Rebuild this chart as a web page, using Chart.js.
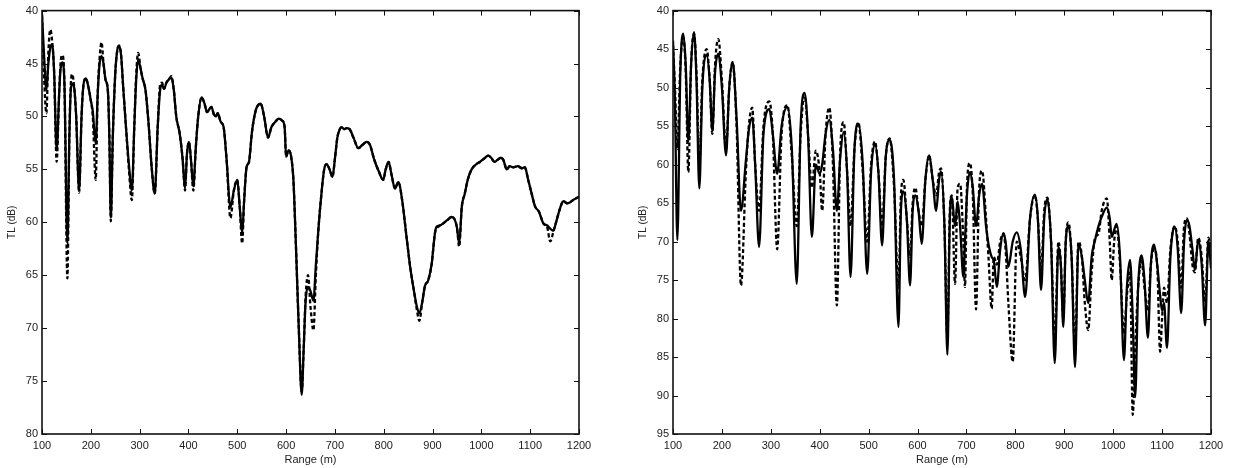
<!DOCTYPE html>
<html><head><meta charset="utf-8">
<script src="https://cdn.jsdelivr.net/npm/chart.js@4.4.1/dist/chart.umd.min.js"></script>
<style>
html,body{margin:0;padding:0;background:#fff;width:1236px;height:468px;overflow:hidden}
.box{position:absolute;top:0;height:468px}
#b1{left:0;width:600px}
#b2{left:631px;width:605px}
canvas{display:block}
</style></head><body>
<div class="box" id="b1"><canvas id="c1" width="600" height="468"></canvas></div>
<div class="box" id="b2"><canvas id="c2" width="605" height="468"></canvas></div>
<script>
// ---------- axis ticks ----------
const rangeTicks = [100,200,300,400,500,600,700,800,900,1000,1100,1200];
const leftTLTicks = [40,45,50,55,60,65,70,75,80];
const rightTLTicks = [40,45,50,55,60,65,70,75,80,85,90,95];
const xTitle = 'Range (m)';
const yTitle = 'TL (dB)';

// ---------- left panel ----------
const leftRange = [
 100,104,109,113,117,121,125,130,135,138,
 142,146,152,156,159,162,166,170,176,181,
 185,190,195,200,204,210,214,218,222,226,
 230,235,238,241,245,250,254,258,262,266,
 272,278,284,289,293,297,302,306,312,318,
 325,331,337,342,346,350,355,360,365,370,
 375,382,388,393,397,401,405,410,415,420,
 427,433,438,443,447,452,456,460,466,472,
 478,486,493,500,505,510,514,519,524,530,
 538,548,555,563,570,578,585,592,597,600,
 605,610,615,620,626,632,636,640,645,650,
 656,661,666,672,678,683,689,695,700,705,
 710,714,719,724,730,738,748,756,765,772,
 780,790,799,804,810,816,823,830,838,847,
 855,862,868,873,879,884.5,891,898,905,908.5,
 915,922,930,939,945,950,954.6,960,966,972,
 980,990,997,1005,1014,1020,1027,1033,1040,1045,
 1052,1058,1065,1075,1083,1089,1096,1103,1110,1118,
 1127,1135,1141,1147,1153,1161,1168,1175,1182,1188,
 1195,1200];
const leftSolid = [
 40.3,44,47.5,45,43.5,43.2,46,53.2,48,45.5,
 44.9,47,62,52,47.5,46.9,47.3,50,57,50,
 47,46.4,47.2,48.5,49.5,52.6,48,45,44.3,45,
 46.5,47.6,52,59.6,52,46,43.8,43.3,44.2,47,
 51,54.5,57,51,46.5,44.6,45.5,46.4,47.5,50.5,
 55,57.3,51,47.5,47,47.4,46.8,46.5,46.3,47.5,
 50,51.6,54,56.8,53.5,52.4,54,56.6,53,50,
 48.2,48.8,49.6,49.3,49.1,49.8,50,49.7,50.5,51,
 54,58.6,57,56,58.5,61,58,54.8,54.3,51.5,
 49.4,48.8,50,52,51,50.5,50.2,50.4,51,53.8,
 53.2,53.7,56,62,70,76.3,72,67.5,66.1,66.5,
 67.4,64,60.8,57.5,55,54.5,55,55.7,54,52,
 51.2,51,51.2,51.1,51.2,52,53,52.7,52.4,52.7,
 54,55.2,56,55,54.3,55.5,56.8,56.2,58,61.5,
 64.5,66.5,68,68.6,67.5,66,65.5,64,61,60.4,
 60.3,60.1,59.8,59.5,59.7,60.5,62,58.5,57.3,56,
 55,54.5,54.3,54,53.7,53.9,54.3,54.1,53.9,54.1,
 55,54.7,54.8,54.7,54.9,54.8,56,57.3,58.5,59,
 60.1,60.3,60.6,60.8,60,58.7,58,58.2,58.1,57.9,
 57.7,57.6];
const leftDashed = [
 40.5,46,49.7,44,41.8,43,46,54.3,48,45,
 44.2,47,65.3,52,47,46,47.3,50,57.2,50,
 47,46.4,47.2,48.5,50,56,48,44.5,43,45,
 46.5,47.6,52,59.9,52,46,43.8,43.3,44.2,47,
 51,55,57.9,51,46,44,45.5,46.4,47.5,50.5,
 55,57.3,51,47,46.8,47.4,46.8,46.5,46.2,47.5,
 50,51.6,54,57,53.5,52.4,54,57,53,50,
 48.2,48.8,49.6,49.3,49.1,49.8,50,49.7,50.5,51,
 54,59.6,57,56,58.5,62,58,54.8,54.3,51.5,
 49.4,48.8,50,52,51,50.5,50.2,50.4,51,53.8,
 53.2,53.7,56,62,70,76,72,67,65,68,
 70.2,65,60.8,57.5,55,54.5,55,55.7,54,52,
 51.2,51,51.2,51.1,51.2,52,53,52.7,52.4,52.7,
 54,55.2,56,55,54.3,55.5,56.8,56.2,58,61.5,
 64.5,66.5,68.3,69.3,67.5,66,65.5,64,61,60.6,
 60.3,60.1,59.8,59.5,59.7,60.5,62.3,58.5,57.3,56,
 55,54.5,54.3,54,53.7,53.9,54.3,54.1,53.9,54.1,
 55,54.7,54.8,54.7,54.9,54.8,56,57.3,58.5,59,
 60.1,60.5,61.8,61,60,58.7,58,58.2,58.1,57.9,
 57.7,57.6];

// ---------- right panel ----------
const rightRange = [
 100,104,108.9,115,121,126,131.4,137,143,148,
 153.8,160,168.8,175,180.4,186,192.7,200,208.4,215,
 222,230,239,249,255,262,268,276,285,297,
 304,313,322,334,343,353,361,369,376,384,
 392,400,405,412,419.5,427,435,442,449,456,
 463,471,479,488,497,505,513,520,527.5,535,
 543,552,561,566,571,578,584.7,590,595.5,602,
 608.6,616,623.8,631,638,644,648,655,661,666,
 670,676.7,682,687,693.7,697,701,707,713,719.6,
 726,732,740,745,751.6,756,762,769,775.5,780,
 785.7,794.6,802.8,811,820,830,840,846,852.5,859,
 865.5,873,880.5,888,893,898,903,908.4,915,922,
 929,936,942,949,956,963,970,976.5,987,993,
 997,1002,1007,1014,1022,1028,1034.5,1040,1045,1051,
 1058,1064,1071,1077,1083.6,1090,1096,1100,1104,1110,
 1117,1126,1132,1139,1145,1150.5,1156,1162,1167,1174,
 1181,1188,1194.7,1200];
const rightSolid = [
 43.9,52,69.8,48,43,47,57,47,42.8,49,
 63.1,50,45.8,49,55.6,48,45.6,50,58.8,50,
 46.7,54,66,59.5,55.5,53.9,60,70.7,56,52.8,
 56,61.2,55,52.5,58,75.5,55,50.7,56,69.4,
 60,61.2,60,56,54.2,58,66,59,55.8,61,
 74.6,58,54.7,60,74.2,61,57.3,61,70.5,59,
 56.8,62,81.1,66,63.5,67,75.7,66,64,66,
 70.3,62,58.8,62,66,62,60.9,68,84.7,67,
 64.2,68,64.8,68,74.6,70,64,61,63,68,
 64,62.5,68,70.3,72,72.5,75.9,71,68.9,70,
 73.3,70,68.8,71,77.2,67,63.9,67,76.3,67,
 64.5,70,85.8,70.7,73,81.1,70,68,72,86.3,
 70.3,72,75,78,72,69.8,68,66.8,65.6,67,
 69.4,68.5,67.7,72,85.4,76,72.4,80,90.2,76,
 71.8,75,82.5,73,70.4,73,77,79,78,83.8,
 72,68.1,71,79.3,70,67.2,68,71,73.7,69.8,
 73,80.9,69.8,73.5];
const rightDashed = [
 44.5,50,58,47,43.5,48,61,47,43,48,
 60,49,45,49,56,47,43.7,49,58,50,
 46.7,55,75.7,61,55,52.6,60,66,55,51.8,
 56,71,56,52.3,59,68,56,51,56,63,
 58.2,61,66,56,52.6,60,78.3,58,54.5,61,
 68,58,54.5,61,70,60,57,61,68,59,
 56.6,63,76,64,62,67,72,65,63,66,
 68,62,58.8,62,64,61,60.5,68,82.5,66,
 64,75.5,63,62.5,70,75.9,63,59.8,64,78.8,
 63,60.8,67,72,78.7,72,73,70,69,71,
 78,85.6,70,72,75,67,64,67,74,66,
 64.3,70,83,70,73,80,70,67.5,72,84,
 70,72,78,81.5,74,69.5,69,66,64.4,70,
 75,70,68,73,82,77,74,92.5,84,76,
 72.5,76,79,73,71,73,84.3,80,76,78,
 71,68,70,76,68,67,69,73,74,69.5,
 72,78,69.5,71];

// ---------- drawing ----------
const framePlugin = {
  id: 'frame',
  afterDatasetsDraw(chart) {
    const {ctx, chartArea: a, scales: {x, y}} = chart;
    ctx.save();
    ctx.strokeStyle = '#111';
    ctx.lineWidth = 1;
    const L = 5;
    ctx.beginPath();
    x.ticks.forEach(t => {
      const px = Math.round(x.getPixelForValue(t.value)) + 0.5;
      ctx.moveTo(px, a.top); ctx.lineTo(px, a.top + L);
      ctx.moveTo(px, a.bottom); ctx.lineTo(px, a.bottom - L);
    });
    y.ticks.forEach(t => {
      const py = Math.round(y.getPixelForValue(t.value)) + 0.5;
      ctx.moveTo(a.left, py); ctx.lineTo(a.left + L, py);
      ctx.moveTo(a.right, py); ctx.lineTo(a.right - L, py);
    });
    ctx.stroke();
    ctx.lineWidth = 1.6;
    ctx.strokeRect(a.left, a.top, a.right - a.left, a.bottom - a.top);
    ctx.restore();
  }
};

function makeChart(id, ranges, solid, dashed, yTicks, padRight) {
  const font = {family: 'Liberation Sans, Arial, sans-serif', size: 11};
  return new Chart(document.getElementById(id), {
    type: 'line',
    data: {
      datasets: [
        {data: ranges.map((r, i) => ({x: r, y: solid[i]})), borderColor: '#000', borderWidth: 2.3,
         pointRadius: 0, cubicInterpolationMode: 'monotone', fill: false},
        {data: ranges.map((r, i) => ({x: r, y: dashed[i]})), borderColor: '#000', borderWidth: 2.3,
         borderDash: [4, 2.5], pointRadius: 0, cubicInterpolationMode: 'monotone', fill: false}
      ]
    },
    options: {
      responsive: false, animation: false, events: [],
      layout: {padding: {left: 0, right: padRight, top: 10, bottom: 0}},
      plugins: {legend: {display: false}, tooltip: {enabled: false}},
      scales: {
        x: {
          type: 'linear', min: rangeTicks[0], max: rangeTicks[rangeTicks.length - 1],
          afterBuildTicks: s => { s.ticks = rangeTicks.map(v => ({value: v})); },
          grid: {display: false, drawTicks: false, tickLength: 0}, border: {display: false},
          ticks: {color: '#222', font, padding: 5, maxRotation: 0, autoSkip: false, callback: v => String(v)},
          title: {display: true, text: xTitle, color: '#222', font, padding: {top: 0, bottom: 1}},
          afterFit: s => { s.height = 34; }
        },
        y: {
          type: 'linear', reverse: true, min: yTicks[0], max: yTicks[yTicks.length - 1],
          afterBuildTicks: s => { s.ticks = yTicks.map(v => ({value: v})); },
          grid: {display: false, drawTicks: false, tickLength: 0}, border: {display: false},
          ticks: {color: '#222', font, padding: 4, autoSkip: false, callback: v => String(v)},
          title: {display: true, text: yTitle, color: '#222', font: {family: font.family, size: 10}, padding: {top: 6, bottom: 0}},
          afterFit: s => { s.width = 42; }
        }
      }
    },
    plugins: [framePlugin]
  });
}

makeChart('c1', leftRange, leftSolid, leftDashed, leftTLTicks, 21);
makeChart('c2', rightRange, rightSolid, rightDashed, rightTLTicks, 25);
</script>
</body></html>
